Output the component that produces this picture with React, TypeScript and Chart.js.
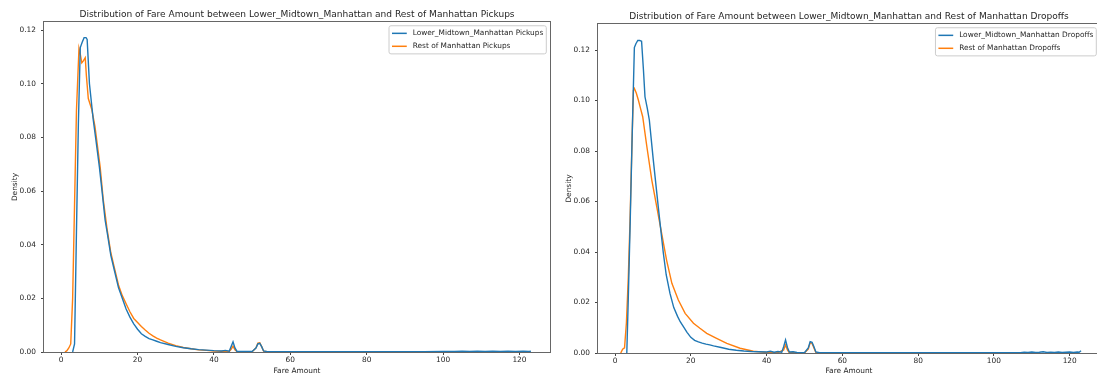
import React, { useEffect, useRef } from "react";
import { Chart, registerables } from "chart.js";

Chart.register(...registerables);

// ---------- data ----------
const X_TICKS = [0, 20, 40, 60, 80, 100, 120];
const Y_TICKS = [0, 0.02, 0.04, 0.06, 0.08, 0.1, 0.12];

const PICKUP_TITLE = "Distribution of Fare Amount between Lower_Midtown_Manhattan and Rest of Manhattan Pickups";
const DROPOFF_TITLE = "Distribution of Fare Amount between Lower_Midtown_Manhattan and Rest of Manhattan Dropoffs";
const PICKUP_LABELS = ["Lower_Midtown_Manhattan Pickups", "Rest of Manhattan Pickups"];
const DROPOFF_LABELS = ["Lower_Midtown_Manhattan Dropoffs", "Rest of Manhattan Dropoffs"];

// Left: Lower_Midtown_Manhattan pickups
const PU_LM_X = [3, 3.5, 4, 4.5, 5, 5.5, 6, 6.5, 6.8, 7.4, 8.4, 9.1, 10, 10.7, 11.5, 12, 13, 14, 15, 16, 17, 18, 19, 20, 21, 22, 23, 24, 25, 26, 28, 30, 32, 34, 36, 38, 40, 42, 43, 44, 44.5, 45, 45.5, 46, 48, 50, 51, 51.5, 52, 52.5, 53, 54, 56, 60, 65, 70, 75, 80, 85, 90, 95, 100, 103, 105, 107, 109, 111, 113, 115, 117, 119, 121, 122.5, 123];
const PU_LM_Y = [0, 0.003, 0.045, 0.085, 0.1135, 0.1155, 0.1172, 0.1172, 0.1165, 0.1, 0.0865, 0.079, 0.069, 0.06, 0.0492, 0.045, 0.036, 0.03, 0.024, 0.02, 0.016, 0.013, 0.0105, 0.0085, 0.0068, 0.0058, 0.005, 0.0045, 0.004, 0.0035, 0.0028, 0.0021, 0.0016, 0.0012, 0.0009, 0.0007, 0.0005, 0.0004, 0.0006, 0.0003, 0.002, 0.0038, 0.0015, 0.0003, 0.0002, 0.0002, 0.0015, 0.003, 0.0032, 0.002, 0.0004, 0.0001, 0.0001, 0.0001, 0.0001, 0.0001, 0.0001, 0.0001, 0.0001, 0.0001, 0.0001, 0.0002, 0.0002, 0.0003, 0.0002, 0.0003, 0.0002, 0.0003, 0.0002, 0.0003, 0.0002, 0.0003, 0.0002, 0.0003];

// Left: Rest of Manhattan pickups
const PU_REST_X = [1, 1.5, 2, 2.5, 3, 3.5, 4, 4.66, 5, 5.4, 5.8, 6.3, 6.6, 7.1, 8, 8.85, 10.2, 11, 12, 13, 14, 15, 16, 17, 18, 19, 20, 21, 22, 23, 24, 25, 26, 28, 30, 32, 34, 36, 38, 40, 42, 44, 44.5, 45, 45.5, 46, 48, 50, 51, 51.5, 52, 52.5, 53, 54, 56, 60, 65, 70, 75, 80, 85, 90, 95, 100, 103.5];
const PU_REST_Y = [0, 0.0005, 0.0015, 0.003, 0.02, 0.055, 0.09, 0.1132, 0.111, 0.1078, 0.1085, 0.1097, 0.103, 0.0945, 0.0905, 0.084, 0.069, 0.057, 0.046, 0.037, 0.031, 0.025, 0.021, 0.018, 0.015, 0.0125, 0.011, 0.0095, 0.0082, 0.007, 0.006, 0.0052, 0.0045, 0.0033, 0.0024, 0.0017, 0.0012, 0.0008, 0.0006, 0.0004, 0.0003, 0.0002, 0.001, 0.0022, 0.0008, 0.0002, 0.0001, 0.0001, 0.0015, 0.0033, 0.0034, 0.002, 0.0003, 0.0001, 0.0001, 0.0001, 0.0001, 0.0001, 0.0001, 0.0001, 0.0001, 0.0001, 0.0001, 0.0001, 0.0001];

// Right: Lower_Midtown_Manhattan dropoffs
const DO_LM_X = [3.1, 3.5, 4, 4.5, 5.1, 5.5, 6, 6.5, 7, 7.5, 7.9, 8.5, 9.05, 10.1, 11.4, 12.75, 13.5, 14.5, 15.5, 16.5, 17.2, 18, 19, 20, 21, 22, 23, 24, 25, 26, 28, 30, 32, 34, 36, 38, 40, 41, 42, 43, 44, 44.5, 45, 45.5, 46, 47, 48, 50, 51, 51.5, 52, 52.5, 53, 54, 56, 60, 65, 70, 75, 80, 85, 90, 95, 100, 105, 107, 108, 109, 110, 111, 112, 113, 114, 115, 116, 117, 118, 119, 120, 121, 122, 122.5, 123];
const DO_LM_Y = [0, 0.022, 0.052, 0.085, 0.121, 0.1225, 0.1238, 0.1238, 0.1235, 0.112, 0.1015, 0.097, 0.0923, 0.0764, 0.058, 0.0395, 0.031, 0.0236, 0.018, 0.0145, 0.0124, 0.0105, 0.0082, 0.0062, 0.005, 0.0044, 0.0039, 0.0035, 0.0032, 0.0028, 0.0022, 0.0015, 0.0011, 0.0008, 0.0006, 0.0005, 0.0004, 0.0007, 0.0003, 0.0006, 0.0003, 0.0025, 0.0052, 0.0022, 0.0004, 0.0005, 0.0002, 0.0001, 0.002, 0.0045, 0.0042, 0.0025, 0.0004, 0.0001, 0.0001, 0.0001, 0.0001, 0.0001, 0.0001, 0.0001, 0.0001, 0.0001, 0.0001, 0.0001, 0.0001, 0.0001, 0.0003, 0.0002, 0.0004, 0.0002, 0.0003, 0.0005, 0.0002, 0.0003, 0.0002, 0.0004, 0.0002, 0.0003, 0.0004, 0.0002, 0.0004, 0.0003, 0.0009];

// Right: Rest of Manhattan dropoffs
const DO_REST_X = [1.5, 2, 2.5, 3, 3.5, 3.96, 4.5, 4.85, 5.1, 5.6, 6.15, 6.7, 7.3, 8.4, 9.7, 11, 12.3, 13.6, 15, 16.7, 18.5, 20.7, 22.4, 24.2, 26.8, 29.5, 33, 36.5, 40, 43, 44.5, 45, 45.5, 46, 50, 51, 51.5, 52, 52.5, 53, 55, 60, 65, 70, 75, 80, 85, 90, 95, 100, 105, 108];
const DO_REST_Y = [0, 0.0015, 0.002, 0.012, 0.03, 0.0527, 0.085, 0.104, 0.1048, 0.103, 0.1002, 0.097, 0.0936, 0.0817, 0.0685, 0.058, 0.0474, 0.0368, 0.0276, 0.021, 0.0157, 0.0118, 0.0098, 0.0078, 0.0058, 0.0038, 0.0019, 0.0007, 0.0002, 0.0001, 0.0012, 0.0032, 0.0012, 0.0001, 0.0001, 0.0015, 0.004, 0.0038, 0.002, 0.0002, 0.0001, 0.0001, 0.0001, 0.0001, 0.0001, 0.0001, 0.0001, 0.0001, 0.0001, 0.0001, 0.0001, 0.0001];

// ---------- styling ----------
const BLUE = "#1f77b4";
const ORANGE = "#ff7f0e";
const FONT = "'DejaVu Sans', sans-serif";
const TEXT = "#262626";
const FS = 7.4;
const TITLE_FS = 9.05;

const pts = (xs: number[], ys: number[]) => xs.map((x, i) => ({ x, y: ys[i] }));

const mplPlugin = {
  id: "mplFrame",
  afterDatasetsDraw(chart: any) {
    const { ctx, chartArea: a } = chart;
    ctx.save();
    // frame
    ctx.strokeStyle = "#666666";
    ctx.lineWidth = 1;
    ctx.strokeRect(Math.round(a.left) - 0.5, Math.round(a.top) - 0.5, Math.round(a.right - a.left) + 1, Math.round(a.bottom - a.top) + 1);
    // legend
    ctx.font = `${FS}px ${FONT}`;
    const ds = chart.data.datasets;
    const labels = ds.map((d: any) => d.label);
    const tw = Math.max(...labels.map((l: string) => ctx.measureText(l).width));
    const pad = 0.4 * FS, hl = 2 * FS, htp = 0.8 * FS, ls = 0.5 * FS, rowH = FS * 1.25;
    const w = pad * 2 + hl + htp + tw;
    const h = pad * 2 + rowH * labels.length + ls * (labels.length - 1);
    const x = a.right - 0.5 * FS - w;
    const y = a.top + 0.5 * FS;
    ctx.beginPath();
    if (ctx.roundRect) ctx.roundRect(x, y, w, h, 2);
    else ctx.rect(x, y, w, h);
    ctx.fillStyle = "rgba(255,255,255,0.8)";
    ctx.fill();
    ctx.strokeStyle = "#cccccc";
    ctx.lineWidth = 1;
    ctx.stroke();
    labels.forEach((l: string, i: number) => {
      const cy = y + pad + rowH / 2 + i * (rowH + ls);
      ctx.strokeStyle = ds[i].borderColor;
      ctx.lineWidth = 1.5;
      ctx.beginPath();
      ctx.moveTo(x + pad, cy);
      ctx.lineTo(x + pad + hl, cy);
      ctx.stroke();
      ctx.fillStyle = TEXT;
      ctx.textAlign = "left";
      ctx.textBaseline = "middle";
      ctx.fillText(l, x + pad + hl + htp, cy);
    });
    ctx.restore();
  },
};

type Panel = {
  title: string;
  labels: string[];
  a: { x: number; y: number }[];
  b: { x: number; y: number }[];
  yMax: number;
  yWidth: number;
  plotW: number;
  xHeight: number;
  titleTop: number;
  densityPad: number;
};

function makeConfig(p: Panel): any {
  return {
    type: "line",
    data: {
      datasets: [
        { label: p.labels[0], data: p.a, borderColor: BLUE, borderWidth: 1.4, pointRadius: 0, fill: false, tension: 0 },
        { label: p.labels[1], data: p.b, borderColor: ORANGE, borderWidth: 1.4, pointRadius: 0, fill: false, tension: 0 },
      ],
    },
    options: {
      responsive: false,
      animation: false,
      events: [],
      layout: { padding: 0 },
      plugins: {
        legend: { display: false },
        tooltip: { enabled: false },
        title: {
          display: true,
          text: p.title,
          color: TEXT,
          font: { family: FONT, size: TITLE_FS, weight: "normal", lineHeight: 1.2 },
          padding: { top: p.titleTop, bottom: 1.6 },
        },
      },
      scales: {
        x: {
          type: "linear",
          min: -4.5,
          max: 128,
          afterFit: (s: any) => { s.height = p.xHeight; },
          afterBuildTicks: (s: any) => { s.ticks = X_TICKS.map((v) => ({ value: v })); },
          border: { display: false },
          grid: { display: true, drawOnChartArea: false, drawTicks: true, tickLength: 3, color: "#444444" },
          ticks: { color: TEXT, font: { family: FONT, size: FS }, padding: 1, maxRotation: 0, callback: (v: any) => String(v) },
          title: { display: true, text: "Fare Amount", color: TEXT, font: { family: FONT, size: FS, lineHeight: 1.2 }, padding: { top: 0, bottom: 2.5 } },
        },
        y: {
          type: "linear",
          position: "left",
          min: 0,
          max: p.yMax,
          afterFit: (s: any) => { s.width = p.yWidth; },
          afterBuildTicks: (s: any) => { s.ticks = Y_TICKS.map((v) => ({ value: v })); },
          border: { display: false },
          grid: { display: true, drawOnChartArea: false, drawTicks: true, tickLength: 3, color: "#444444" },
          ticks: { color: TEXT, font: { family: FONT, size: FS }, padding: 5, callback: (v: any) => Number(v).toFixed(2) },
          title: { display: true, text: "Density", color: TEXT, font: { family: FONT, size: FS, lineHeight: 1.2 }, padding: { top: p.densityPad, bottom: 0 } },
        },
        // invisible spacer on the right so the title centres over the plot area
        spacer: {
          type: "linear",
          position: "right",
          display: true,
          afterFit: (s: any) => { s.width = p.yWidth; },
          border: { display: false },
          grid: { display: false },
          ticks: { display: false },
        },
      },
    },
    plugins: [mplPlugin],
  };
}

function ChartCanvas({ panel, left }: { panel: Panel; left: number }) {
  const ref = useRef<HTMLCanvasElement | null>(null);
  const width = panel.yWidth * 2 + panel.plotW;
  useEffect(() => {
    if (!ref.current) return;
    const chart = new Chart(ref.current, makeConfig(panel));
    return () => chart.destroy();
  }, []);
  return (
    <canvas
      ref={ref}
      width={width}
      height={378}
      style={{ position: "absolute", left, top: 0, width, height: 378 }}
    />
  );
}

const LEFT_PANEL: Panel = {
  title: PICKUP_TITLE,
  labels: PICKUP_LABELS,
  a: pts(PU_LM_X, PU_LM_Y),
  b: pts(PU_REST_X, PU_REST_Y),
  yMax: 0.123,
  yWidth: 44,
  plotW: 506,
  xHeight: 26,
  titleTop: 9.6,
  densityPad: 10.5,
};

const RIGHT_PANEL: Panel = {
  title: DROPOFF_TITLE,
  labels: DROPOFF_LABELS,
  a: pts(DO_LM_X, DO_LM_Y),
  b: pts(DO_REST_X, DO_REST_Y),
  yMax: 0.1303,
  yWidth: 48,
  plotW: 502,
  xHeight: 25,
  titleTop: 11.6,
  densityPad: 14.5,
};

export default function App() {
  return (
    <div style={{ position: "absolute", left: 0, top: 0, width: 1097, height: 378, overflow: "hidden", background: "#ffffff" }}>
      <ChartCanvas panel={LEFT_PANEL} left={0} />
      <ChartCanvas panel={RIGHT_PANEL} left={550} />
    </div>
  );
}
